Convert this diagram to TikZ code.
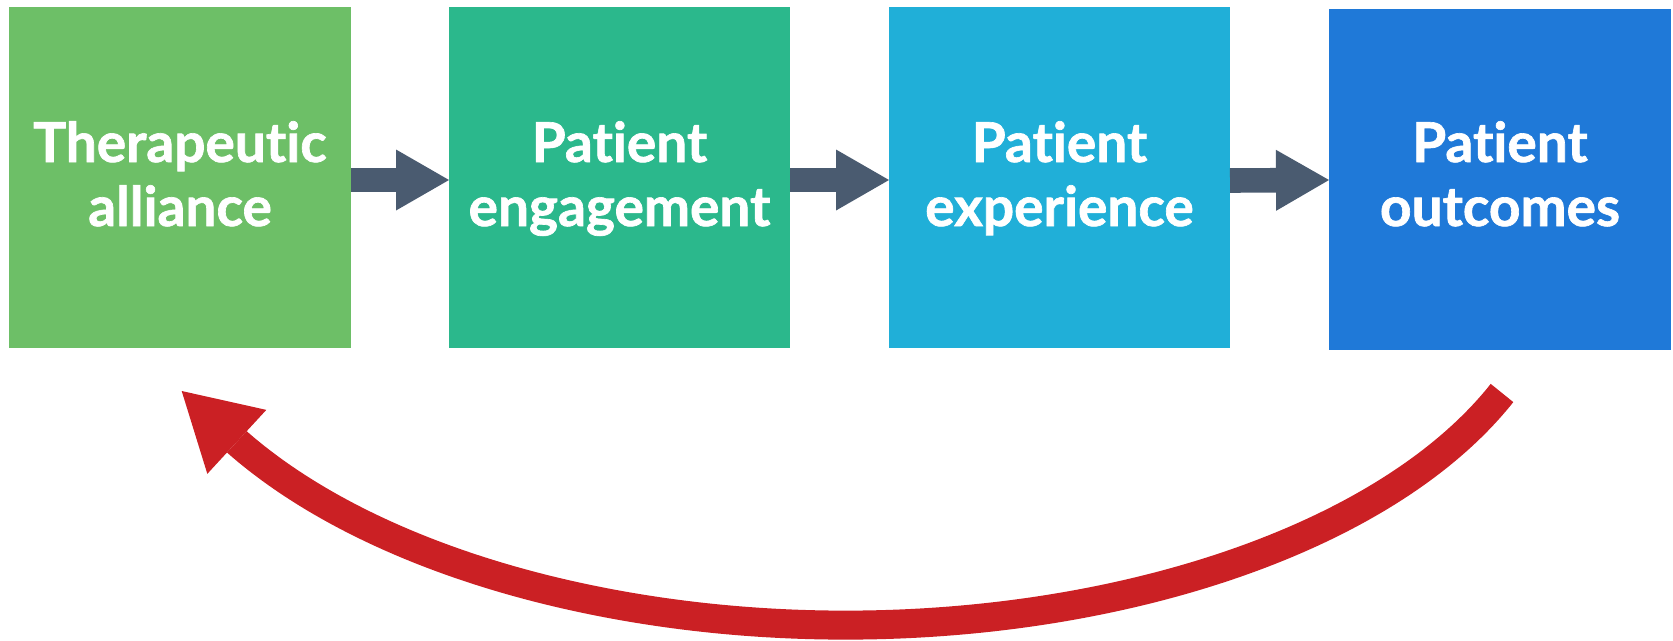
\documentclass[tikz,border=0pt]{standalone}
\usepackage{fontspec}
\newfontfamily\boxfont{Lato}[Ligatures=NoCommon, BoldFeatures={FakeBold=1.2}]
\usetikzlibrary{arrows.meta}

\definecolor{boxgreen}{HTML}{6DBF67}
\definecolor{boxteal}{HTML}{2BB88C}
\definecolor{boxcyan}{HTML}{20AFD8}
\definecolor{boxblue}{HTML}{1F79D8}
\definecolor{linkslate}{HTML}{4A5B70}
\definecolor{loopred}{HTML}{CB2024}

\begin{document}
\begin{tikzpicture}[x=1pt,y=-1pt,
  stagebox/.style={rectangle, inner sep=0pt, outer sep=0pt,
    minimum width=342pt, minimum height=341pt},
  boxlabel/.style={anchor=base, inner sep=0pt, text=white,
    font=\boxfont\bfseries\fontsize{55}{64}\selectfont},
  link/.style={draw=linkslate, line width=24.6pt,
    -{Triangle[length=53pt, width=61pt, line width=0pt]}},
  feedback/.style={draw=loopred, line width=29pt,
    -{Triangle[length=75pt, width=87pt, line width=0pt]}}]

\useasboundingbox (0,0) rectangle (1673,640);

% four stages
\node[stagebox, fill=boxgreen] (b1) at (180,177.5) {};
\node[stagebox, fill=boxteal, minimum width=341pt] (b2) at (619.5,177.5) {};
\node[stagebox, fill=boxcyan, minimum width=341pt] (b3) at (1059.5,177.5) {};
\node[stagebox, fill=boxblue] (b4) at (1500,179.5) {};

% stage labels, two lines each
\node[boxlabel] (l1a) at (180,162) {Therapeutic};
\node[boxlabel] (l1b) at (180,226) {alliance};
\node[boxlabel] (l2a) at (619.5,162) {Patient};
\node[boxlabel] (l2b) at (619.5,226) {engagement};
\node[boxlabel] (l3a) at (1059.5,162) {Patient};
\node[boxlabel] (l3b) at (1059.5,226) {experience};
\node[boxlabel] (l4a) at (1500,162) {Patient};
\node[boxlabel] (l4b) at (1500,226) {outcomes};

% forward links between stages
\draw[link] ([yshift=-2.5pt]b1.east) -- ([yshift=-2.5pt]b2.west);
\draw[link] ([yshift=-2.5pt]b2.east) -- ([yshift=-2.5pt]b3.west);
\draw[link] ([yshift=-0.5pt]b3.east |- 0,180) -- (b4.west |- 0,180);

% feedback loop from outcomes back to alliance
\coordinate (fbstart) at (1502,393);
\coordinate (fbtip) at (181.7,391);
\draw[feedback] (fbstart)
  arc[start angle=23, end angle=148.7, x radius=712.7, y radius=380.8]
  -- (fbtip);

\end{tikzpicture}
\end{document}
